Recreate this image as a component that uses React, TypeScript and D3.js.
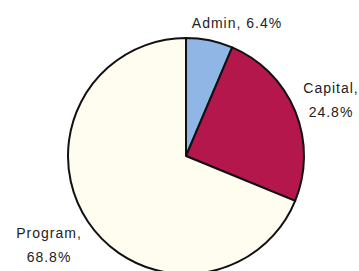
import React from "react";
import * as d3 from "d3";

const categories = ["Admin", "Capital", "Program"];
const values = [6.4, 24.8, 68.8];
const colors = ["#8fb6e4", "#b3174b", "#fffdf0"];

const W = 359;
const H = 271;
const cx = 186;
const cy = 156;
const R = 118;

// label anchors (layout): [x, baseline y of first line, two lines?]
const labelLayout: { x: number; y: number; split: boolean }[] = [
  { x: 237, y: 28, split: false },
  { x: 331, y: 93, split: true },
  { x: 49, y: 238, split: true },
];

export default function App() {
  const pie = d3.pie<number>().sort(null).value((d) => d)(values);
  const arc = d3.arc<d3.PieArcDatum<number>>().innerRadius(0).outerRadius(R);
  const fmt = (v: number) => `${v.toFixed(1)}%`;
  return (
    <svg
      width={W}
      height={H}
      style={{ position: "absolute", left: 0, top: 0, background: "#fff" }}
      fontFamily="'Liberation Sans', Arial, sans-serif"
    >
      <g transform={`translate(${cx},${cy})`}>
        {pie.map((p, i) => (
          <path
            key={i}
            d={arc(p) || ""}
            fill={colors[i]}
            stroke="#111"
            strokeWidth={2}
            strokeLinejoin="round"
          />
        ))}
      </g>
      {categories.map((c, i) => {
        const l = labelLayout[i];
        const style = { letterSpacing: "1px" } as React.CSSProperties;
        if (!l.split) {
          return (
            <text key={c} x={l.x} y={l.y} textAnchor="middle" fontSize={14} fill="#222" style={style}>
              {`${c}, ${fmt(values[i])}`}
            </text>
          );
        }
        return (
          <text key={c} x={l.x} y={l.y} textAnchor="middle" fontSize={14} fill="#222" style={style}>
            <tspan x={l.x} y={l.y}>{`${c},`}</tspan>
            <tspan x={l.x} y={l.y + 24}>{fmt(values[i])}</tspan>
          </text>
        );
      })}
    </svg>
  );
}
